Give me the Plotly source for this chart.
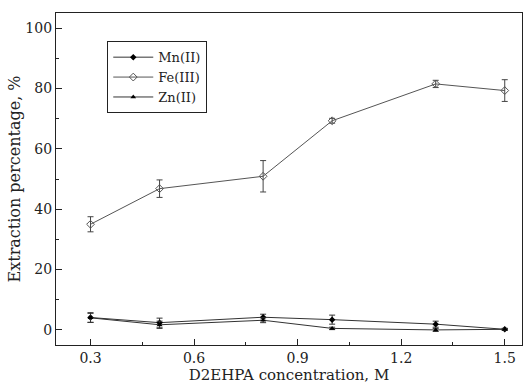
import plotly.graph_objects as go

conc = [0.3, 0.5, 0.8, 1.0, 1.3, 1.5]
mn = [4.1, 2.4, 4.2, 3.4, 1.9, 0.2]
mn_err = [1.6, 1.5, 1.0, 1.5, 1.0, 0.3]
fe = [35.0, 46.8, 50.9, 69.3, 81.5, 79.3]
fe_err = [2.5, 2.9, 5.2, 0.8, 1.2, 3.6]
zn = [4.0, 1.7, 3.2, 0.5, 0.0, 0.2]
zn_err = [1.5, 1.2, 0.8, 0.4, 0.5, 0.3]

xticks = [0.3, 0.6, 0.9, 1.2, 1.5]
yticks = [0, 20, 40, 60, 80, 100]

font = "DejaVu Serif, Liberation Serif, serif"

fig = go.Figure()
fig.add_trace(go.Scatter(
    x=conc, y=mn, name="Mn(II)", mode="lines+markers",
    line=dict(color="#333333", width=1),
    marker=dict(symbol="diamond", size=5, color="black"),
    error_y=dict(type="data", array=mn_err, width=3, thickness=1, color="#333333")))
fig.add_trace(go.Scatter(
    x=conc, y=fe, name="Fe(III)", mode="lines+markers",
    line=dict(color="#555555", width=1),
    marker=dict(symbol="diamond-open", size=6, color="#555555", line=dict(width=1)),
    error_y=dict(type="data", array=fe_err, width=3, thickness=1, color="#444444")))
fig.add_trace(go.Scatter(
    x=conc, y=zn, name="Zn(II)", mode="lines+markers",
    line=dict(color="#333333", width=1),
    marker=dict(symbol="triangle-up", size=5, color="black"),
    error_y=dict(type="data", array=zn_err, width=3, thickness=1, color="#333333")))

fig.update_layout(
    width=528, height=388,
    margin=dict(l=56, r=6, t=13, b=43),
    paper_bgcolor="white", plot_bgcolor="white",
    font=dict(family=font, size=14, color="#222222"),
    showlegend=True,
    legend=dict(x=0.11, y=0.915, xanchor="left", yanchor="top",
                bordercolor="#222222", borderwidth=1, bgcolor="white",
                font=dict(family=font, size=13), tracegroupgap=0,
                itemwidth=40),
    xaxis=dict(range=[0.2, 1.55], tickvals=xticks, ticktext=[str(v) for v in xticks],
               ticks="inside", ticklen=6, tickcolor="#222222",
               showline=True, linecolor="#222222", linewidth=1.2, mirror=True,
               showgrid=False, zeroline=False,
               minor=dict(ticks="inside", ticklen=3, dtick=0.15, tick0=0.3, tickcolor="#222222", showgrid=False),
               title=dict(text="D2EHPA concentration, M", font=dict(size=15), standoff=3)),
    yaxis=dict(range=[-5, 105], tickvals=yticks, ticktext=[str(v) for v in yticks],
               ticks="inside", ticklen=6, tickcolor="#222222",
               showline=True, linecolor="#222222", linewidth=1.2, mirror=True,
               showgrid=False, zeroline=False,
               minor=dict(ticks="inside", ticklen=3, dtick=10, tick0=0, tickcolor="#222222", showgrid=False),
               title=dict(text="Extraction percentage, %", font=dict(size=16), standoff=0)),
)

fig.write_html("out.html")
